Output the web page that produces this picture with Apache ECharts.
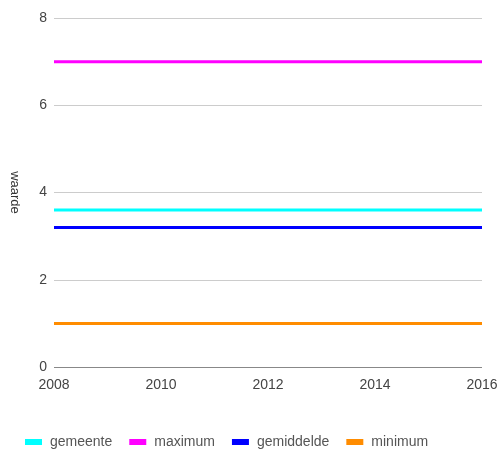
<!DOCTYPE html>
<html>
<head>
<meta charset="utf-8">
<script src="https://cdn.jsdelivr.net/npm/echarts@6/dist/echarts.min.js"></script>
<style>
html, body { margin: 0; padding: 0; background: #fff; }
#chart { width: 501px; height: 455px; }
</style>
</head>
<body>
<div id="chart"></div>
<script>
var years = ['2008', '2009', '2010', '2011', '2012', '2013', '2014', '2015', '2016'];
var gemeente = [3.6, 3.6, 3.6, 3.6, 3.6, 3.6, 3.6, 3.6, 3.6];
var maximum = [7, 7, 7, 7, 7, 7, 7, 7, 7];
var gemiddelde = [3.2, 3.2, 3.2, 3.2, 3.2, 3.2, 3.2, 3.2, 3.2];
var minimum = [1, 1, 1, 1, 1, 1, 1, 1, 1];

var myChart = echarts.init(document.getElementById('chart'));

function line(name, color, data) {
	return {
		name: name,
		type: 'line',
		data: data,
		symbol: 'none',
		lineStyle: { color: color, width: 3 },
		itemStyle: { color: color }
	};
}

var option = {
	animation: false,
	textStyle: { fontFamily: 'Liberation Sans, Arial, sans-serif' },
	grid: {
		left: 53,
		right: 19,
		top: 18,
		bottom: 88
	},
	legend: {
		top: 430,
		left: 20,
		icon: 'rect',
		itemWidth: 17,
		itemHeight: 6,
		itemGap: 17,
		textStyle: { color: '#555', fontSize: 14, padding: [0, 0, 0, 3] },
		data: ['gemeente', 'maximum', 'gemiddelde', 'minimum']
	},
	xAxis: {
		type: 'category',
		boundaryGap: false,
		data: years,
		axisLine: { show: false },
		axisTick: { show: false },
		axisLabel: { interval: 1, color: '#444', fontSize: 14, margin: 11 }
	},
	yAxis: {
		type: 'value',
		min: 0,
		max: 8,
		interval: 2,
		name: 'waarde',
		nameLocation: 'middle',
		nameRotate: -90,
		nameGap: 33,
		nameTextStyle: { color: '#333', fontSize: 13 },
		axisLabel: { color: '#444', fontSize: 14, margin: 7 },
		splitLine: { lineStyle: { color: ['#888', '#ccc', '#ccc', '#ccc', '#ccc'] } }
	},
	series: [
		line('gemeente', '#00ffff', gemeente),
		line('maximum', '#ff00ff', maximum),
		line('gemiddelde', '#0000ff', gemiddelde),
		line('minimum', '#ff8c00', minimum)
	]
};
myChart.setOption(option);
</script>
</body>
</html>
